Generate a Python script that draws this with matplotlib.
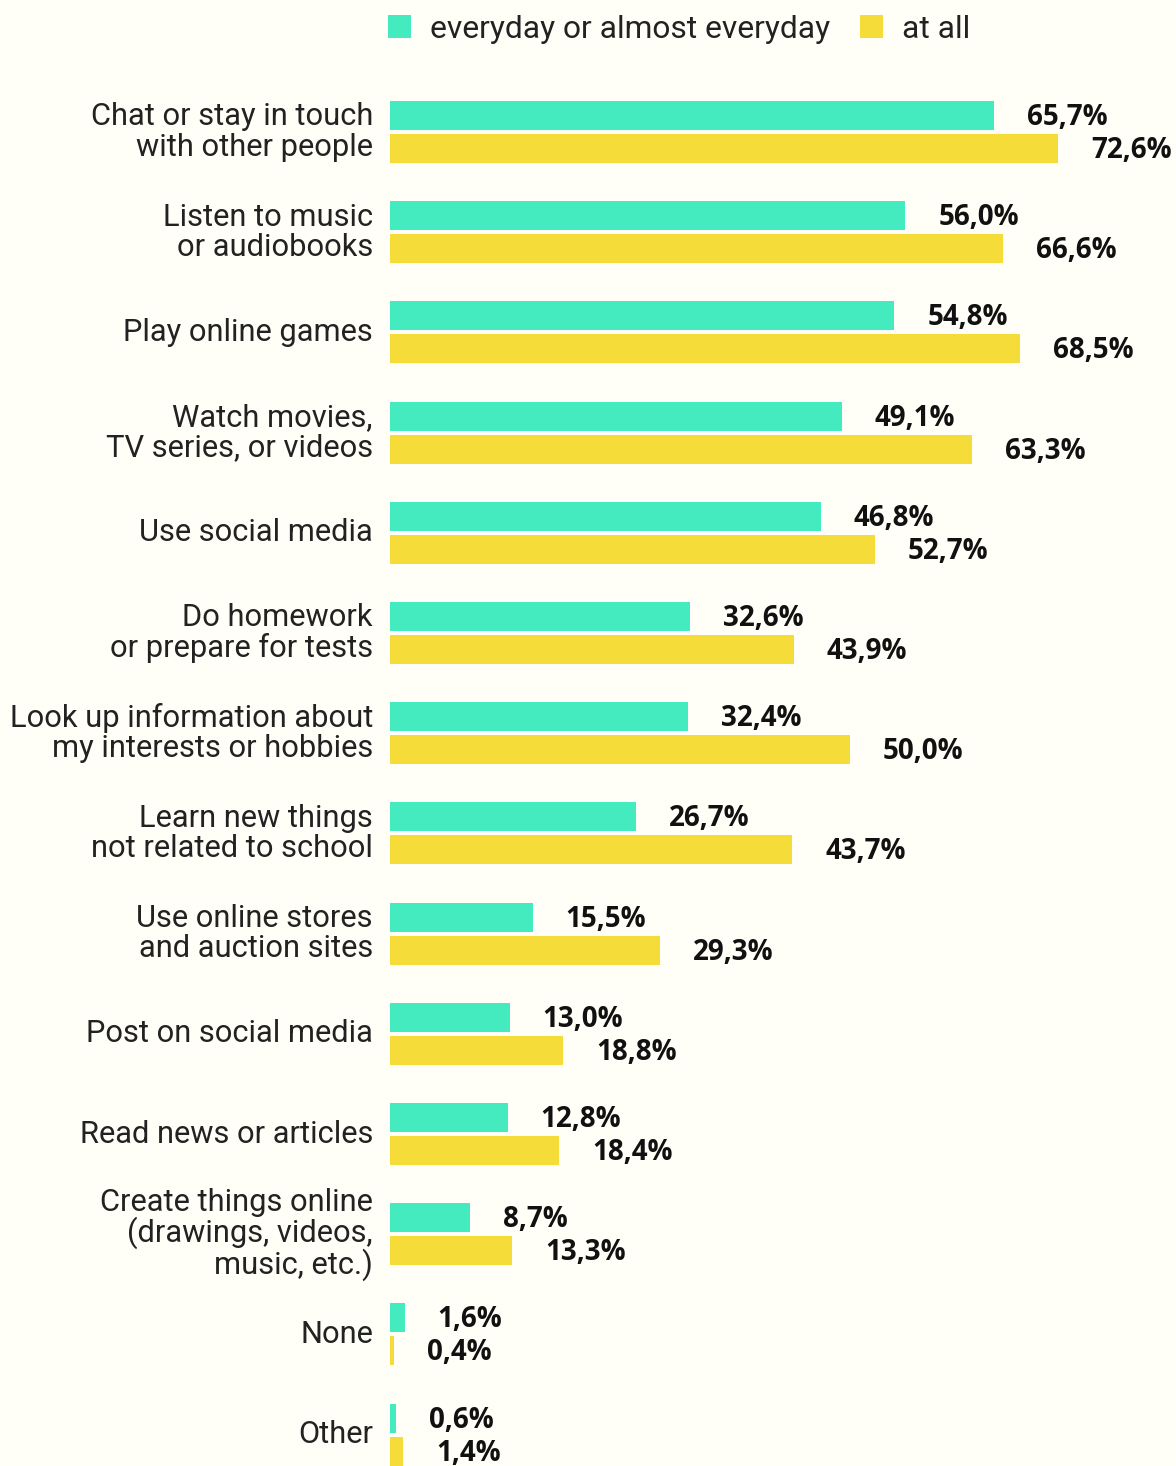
import numpy as np
import matplotlib.pyplot as plt
from matplotlib.patches import Patch
from matplotlib.transforms import blended_transform_factory, offset_copy

# Actividades y porcentajes
categorias = [
    "Chat or stay in touch\nwith other people",
    "Listen to music\nor audiobooks",
    "Play online games",
    "Watch movies,\nTV series, or videos",
    "Use social media",
    "Do homework\nor prepare for tests",
    "Look up information about\nmy interests or hobbies",
    "Learn new things\nnot related to school",
    "Use online stores\nand auction sites",
    "Post on social media",
    "Read news or articles",
    "Create things online\n(drawings, videos,\nmusic, etc.)",
    "None",
    "Other",
]
diario = [65.7, 56.0, 54.8, 49.1, 46.8, 32.6, 32.4, 26.7, 15.5, 13.0, 12.8, 8.7, 1.6, 0.6]
en_absoluto = [72.6, 66.6, 68.5, 63.3, 52.7, 43.9, 50.0, 43.7, 29.3, 18.8, 18.4, 13.3, 0.4, 1.4]
series = ["everyday or almost everyday", "at all"]

fondo = "#fffef7"
verde = "#43ebbe"
amarillo = "#f5dc38"

W, H = 1176, 1466
fig = plt.figure(figsize=(W / 100, H / 100), dpi=100, facecolor=fondo)
x0 = 390
ax = fig.add_axes([x0 / W, 0, (W - x0) / W, 1])
ax.set_facecolor(fondo)

px_por_unidad = 9.2
ax.set_xlim(0, (W - x0) / px_por_unidad)
paso = 100.2
centro0 = 132
ax.set_ylim((H - centro0) / paso, -centro0 / paso)

y = np.arange(len(categorias))
desp = 0.165
alto = 0.29
ax.barh(y - desp, diario, height=alto, color=verde)
ax.barh(y + desp, en_absoluto, height=alto, color=amarillo)

# Etiquetas de valor
for i in range(len(categorias)):
    for v, yy in ((diario[i], y[i] - desp), (en_absoluto[i], y[i] + desp)):
        ax.text(v + 33 / px_por_unidad, yy + 0.02, f"{v:.1f}%".replace(".", ","),
                ha="left", va="center", fontsize=20, fontweight="bold",
                family=["Open Sans", "DejaVu Sans"], color="#111111")

# Nombres de las categorias
trans = offset_copy(blended_transform_factory(ax.transAxes, ax.transData),
                    fig=fig, x=-17, y=0, units="dots")
for i, cat in enumerate(categorias):
    ax.text(0, y[i], cat, transform=trans, ha="right", va="center",
            fontsize=22.2, family=["Roboto", "DejaVu Sans"], color="#222222",
            linespacing=1.05 if cat.count("\n") < 2 else 0.98)

for s in ax.spines.values():
    s.set_visible(False)
ax.set_xticks([])
ax.set_yticks([])

handles = [Patch(facecolor=verde), Patch(facecolor=amarillo)]
fig.legend(handles, series, loc="center", bbox_to_anchor=(679 / W, 1 - 29 / H),
           ncol=2, frameon=False, handlelength=0.72, handleheight=0.72,
           handletextpad=0.6, columnspacing=0.95,
           prop={"family": ["Roboto", "DejaVu Sans"], "size": 22.9})
for t in fig.legends[0].get_texts():
    t.set_color("#222222")

fig.savefig("out.png", dpi=100, facecolor=fondo)
